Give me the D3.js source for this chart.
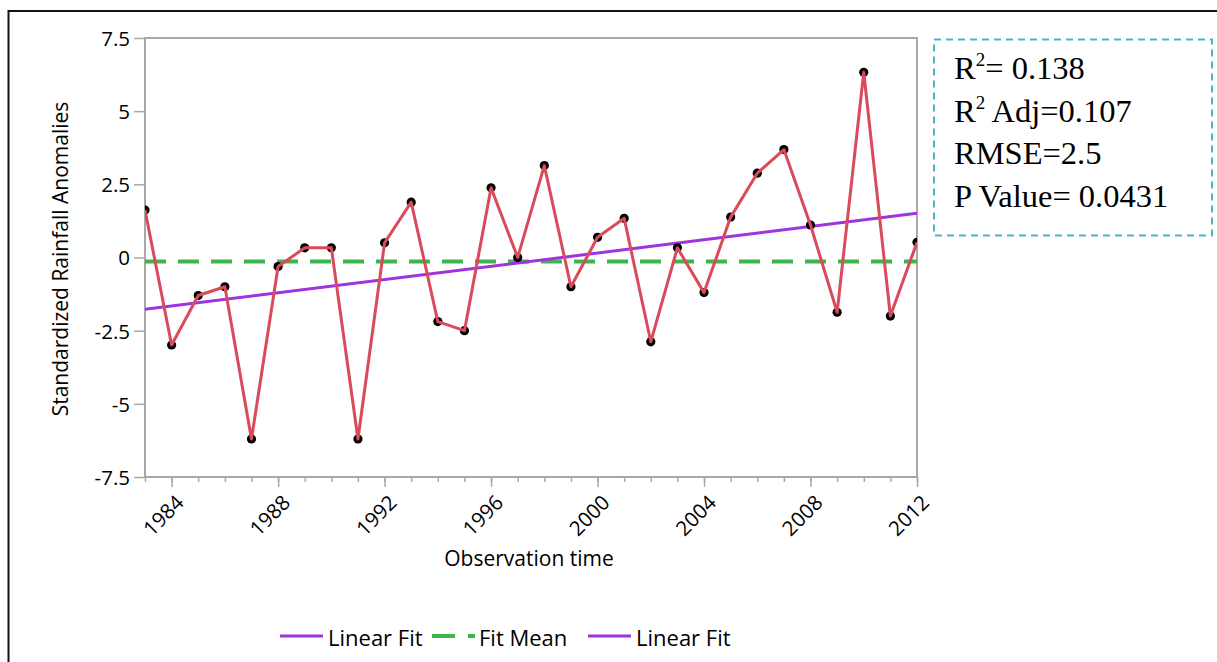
<!DOCTYPE html>
<html>
<head>
<meta charset="utf-8">
<script src="https://cdn.jsdelivr.net/npm/d3@7"></script>
<style>
  html, body { margin: 0; padding: 0; background: #fff; }
  svg { display: block; }
  .sans { font-family: "Open Sans", "Noto Sans", sans-serif; fill: #000; }
  .serif { font-family: "Liberation Serif", "Times New Roman", serif; fill: #000; }
</style>
</head>
<body>
<svg id="chart" width="1217" height="662"></svg>
<script>
// Observation years and standardized rainfall anomalies
const years = [1983, 1984, 1985, 1986, 1987, 1988, 1989, 1990, 1991, 1992,
               1993, 1994, 1995, 1996, 1997, 1998, 1999, 2000, 2001, 2002,
               2003, 2004, 2005, 2006, 2007, 2008, 2009, 2010, 2011, 2012];
const anomalies = [1.62, -2.99, -1.30, -1.00, -6.20, -0.31, 0.33, 0.33, -6.20, 0.50,
                   1.89, -2.19, -2.50, 2.38, 0.00, 3.14, -1.00, 0.69, 1.34, -2.88,
                   0.33, -1.20, 1.38, 2.88, 3.69, 1.11, -1.87, 6.33, -2.00, 0.52];

// Fitted lines: linear fit endpoints and the fit mean
const linearFitYears = [1983, 2012];
const linearFitValues = [-1.77, 1.51];
const fitMean = -0.14;

// Axis ticks
const yTicks = [-7.5, -5, -2.5, 0, 2.5, 5, 7.5];
const xMajorTicks = [1984, 1988, 1992, 1996, 2000, 2004, 2008, 2012];

// Fit statistics
const statLines = [
  { base: "R", sup: "2", rest: "= 0.138" },
  { base: "R", sup: "2", rest: " Adj=0.107" },
  { base: "RMSE=2.5", sup: "", rest: "" },
  { base: "P Value= 0.0431", sup: "", rest: "" }
];

// Legend entries
const legendItems = [
  { label: "Linear Fit", color: "#a032e0", dashed: false },
  { label: "Fit Mean", color: "#3db54a", dashed: true },
  { label: "Linear Fit", color: "#a032e0", dashed: false }
];

const svg = d3.select("#chart");
const plot = { left: 145, top: 38, right: 917, bottom: 477 };

const x = d3.scaleLinear().domain([1983, 2012]).range([plot.left, plot.right]);
const y = d3.scaleLinear().domain([-7.5, 7.5]).range([plot.bottom, plot.top]);

const gray = "#a8a8a8";

// Outer frame
svg.append("rect")
  .attr("x", 8.5).attr("y", 11)
  .attr("width", 1300).attr("height", 700)
  .attr("fill", "none").attr("stroke", "#111").attr("stroke-width", 2);

// Clip region for the data marks
svg.append("clipPath").attr("id", "plotClip")
  .append("rect")
  .attr("x", plot.left).attr("y", plot.top)
  .attr("width", plot.right - plot.left).attr("height", plot.bottom - plot.top);

// Y axis
const yAxis = d3.axisLeft(y).tickValues(yTicks).tickSize(11).tickPadding(4)
  .tickFormat(d => String(d));
const gy = svg.append("g").attr("transform", `translate(${plot.left},0)`).call(yAxis);
gy.select(".domain").remove();
gy.selectAll(".tick line").attr("stroke", gray).attr("stroke-width", 1.5);
gy.selectAll(".tick text").attr("class", "sans").style("font-size", "20.5px")
  .attr("fill", "#000").attr("dy", "0.36em");

// X axis: minor ticks every year, major ticks with labels every 4 years
const gxMinor = svg.append("g").attr("transform", `translate(0,${plot.bottom})`)
  .call(d3.axisBottom(x).tickValues(years).tickSize(5).tickFormat(""));
gxMinor.select(".domain").remove();
gxMinor.selectAll(".tick line").attr("stroke", gray).attr("stroke-width", 1.5);

const gx = svg.append("g").attr("transform", `translate(0,${plot.bottom})`)
  .call(d3.axisBottom(x).tickValues(xMajorTicks).tickSize(10).tickFormat(d3.format("d")));
gx.select(".domain").remove();
gx.selectAll(".tick line").attr("stroke", gray).attr("stroke-width", 1.5);
gx.selectAll(".tick text")
  .attr("class", "sans").style("font-size", "20.5px").attr("fill", "#000")
  .attr("text-anchor", "end")
  .attr("x", null).attr("y", null).attr("dy", null)
  .attr("transform", "translate(13,27) rotate(-45)");

// Plot frame
svg.append("rect")
  .attr("x", plot.left).attr("y", plot.top)
  .attr("width", plot.right - plot.left).attr("height", plot.bottom - plot.top)
  .attr("fill", "none").attr("stroke", gray).attr("stroke-width", 2);

// Axis titles
svg.append("text").attr("class", "sans")
  .attr("x", 529).attr("y", 566)
  .attr("text-anchor", "middle").style("font-size", "21px")
  .text("Observation time");

svg.append("text").attr("class", "sans")
  .attr("transform", "translate(68,259) rotate(-90)")
  .attr("text-anchor", "middle").style("font-size", "21px")
  .text("Standardized Rainfall Anomalies");

const marks = svg.append("g").attr("clip-path", "url(#plotClip)");

// Fit mean (dashed green)
marks.append("line")
  .attr("x1", x(1983)).attr("x2", x(2012))
  .attr("y1", y(fitMean)).attr("y2", y(fitMean))
  .attr("stroke", "#3db54a").attr("stroke-width", 4)
  .attr("stroke-dasharray", "21,12");

// Linear fit (purple)
marks.append("path")
  .datum(linearFitYears.map((yr, i) => [yr, linearFitValues[i]]))
  .attr("d", d3.line().x(d => x(d[0])).y(d => y(d[1])))
  .attr("fill", "none").attr("stroke", "#a032e0").attr("stroke-width", 3);

// Observations
const points = years.map((yr, i) => [yr, anomalies[i]]);

marks.selectAll("circle.obs").data(points).join("circle")
  .attr("class", "obs")
  .attr("cx", d => x(d[0])).attr("cy", d => y(d[1]))
  .attr("r", 4.6).attr("fill", "#000");

marks.append("path")
  .datum(points)
  .attr("d", d3.line().x(d => x(d[0])).y(d => y(d[1])))
  .attr("fill", "none").attr("stroke", "#d94a5b").attr("stroke-width", 3)
  .attr("stroke-linejoin", "round");

// Statistics box
svg.append("rect")
  .attr("x", 934).attr("y", 39.5)
  .attr("width", 278).attr("height", 196)
  .attr("fill", "none").attr("stroke", "#4bb4cc").attr("stroke-width", 2)
  .attr("stroke-dasharray", "7,5");

statLines.forEach((s, i) => {
  const t = svg.append("text").attr("class", "serif")
    .attr("x", 954).attr("y", 79 + i * 42.6)
    .style("font-size", "32.5px");
  t.append("tspan").text(s.base);
  if (s.sup) {
    t.append("tspan").attr("dy", -13).style("font-size", "19px").text(s.sup);
    t.append("tspan").attr("dy", 13).text(s.rest);
  }
});

// Legend
const legendLayout = [
  { lineX: 280, textX: 328 },
  { lineX: 432, textX: 479 },
  { lineX: 588, textX: 636 }
];
legendItems.forEach((item, i) => {
  const pos = legendLayout[i];
  svg.append("line")
    .attr("x1", pos.lineX).attr("x2", pos.lineX + 43)
    .attr("y1", 636).attr("y2", 636)
    .attr("stroke", item.color).attr("stroke-width", item.dashed ? 4 : 3)
    .attr("stroke-dasharray", item.dashed ? "23,13" : null);
  svg.append("text").attr("class", "sans")
    .attr("x", pos.textX).attr("y", 646)
    .style("font-size", "22px")
    .text(item.label);
});
</script>
</body>
</html>
